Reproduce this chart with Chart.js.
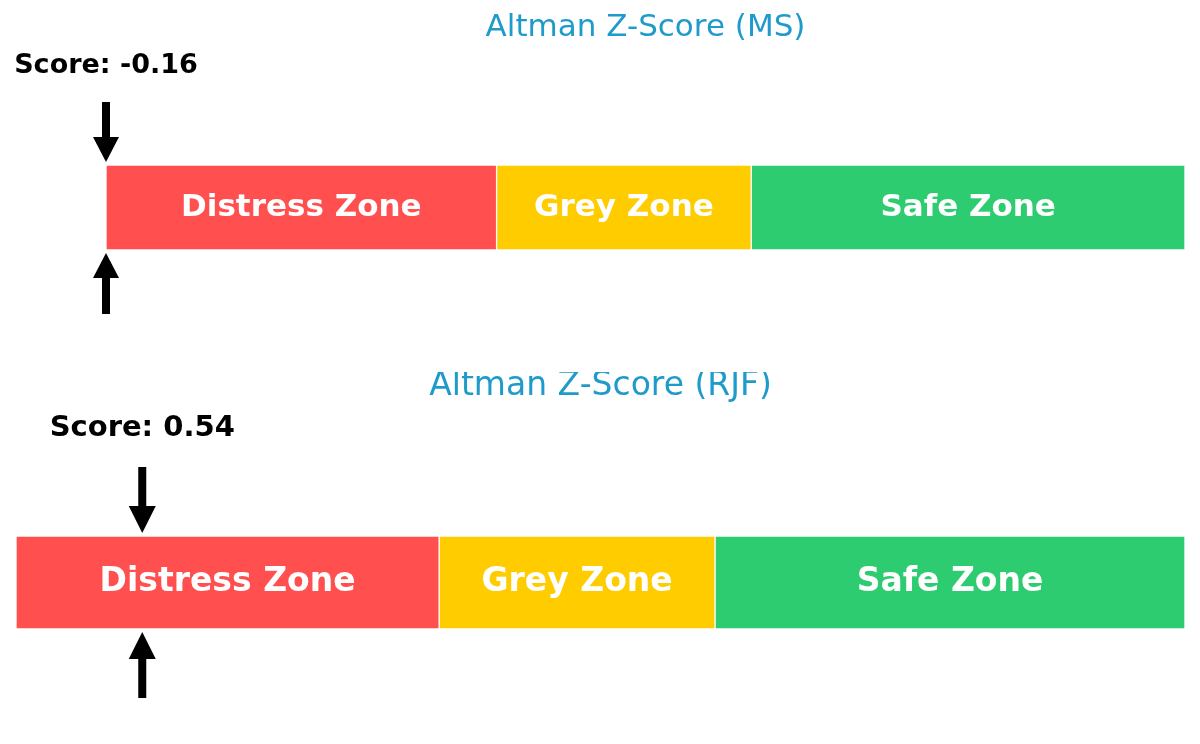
<!DOCTYPE html>
<html>
<head>
<meta charset="utf-8">
<script src="https://cdn.jsdelivr.net/npm/chart.js@4/dist/chart.umd.min.js"></script>
<style>
  html, body { margin: 0; padding: 0; background: #ffffff; }
  #wrap { position: relative; width: 1200px; height: 744px; }
  .panel { position: absolute; left: 0; width: 1200px; height: 372px; }
</style>
</head>
<body>
<div id="wrap">
  <div class="panel" style="top:0"><canvas id="c1"></canvas></div>
  <div class="panel" style="top:372px"><canvas id="c2"></canvas></div>
</div>
<script>
// ---- data ----
const companies = ["MS", "RJF"];
const titles = ["Altman Z-Score (MS)", "Altman Z-Score (RJF)"];
const scores = [-0.16, 0.54];
const zoneLabels = ["Distress Zone", "Grey Zone", "Safe Zone"];
const zoneStarts = [0, 1.81, 2.99];
const zoneEnds = [1.81, 2.99, 5];
const axisMin = 0;
const axisMax = 5;

// ---- styles ----
const zoneColors = ["#ff4f4f", "#ffcc00", "#2ecc71"];
const panelStyles = [
  { pad: { left: 106, right: 15, top: 165, bottom: 122 }, titleY: 28, titleSize: 31, scoreY: 66, scoreSize: 27, zoneSize: 31,
    downTop: 63, upBottom: 64, gap: 3, shaft: 8, headW: 26, headL: 25 },
  { pad: { left: 16, right: 15, top: 164, bottom: 115 }, titleY: 14, titleSize: 33, scoreY: 56, scoreSize: 29, zoneSize: 33,
    downTop: 69, upBottom: 69, gap: 3, shaft: 8, headW: 27, headL: 27 }
];

function drawArrow(ctx, x, yFrom, yTo, st) {
  const dir = yTo > yFrom ? 1 : -1;
  const headBase = yTo - dir * st.headL;
  ctx.fillStyle = "#000";
  ctx.fillRect(x - st.shaft / 2, Math.min(yFrom, headBase), st.shaft, Math.abs(headBase - yFrom));
  ctx.beginPath();
  ctx.moveTo(x - st.headW / 2, headBase);
  ctx.lineTo(x + st.headW / 2, headBase);
  ctx.lineTo(x, yTo);
  ctx.closePath();
  ctx.fill();
}

const overlay = {
  id: "overlay",
  afterDatasetsDraw(chart, args, opts) {
    const st = opts.style;
    const i = opts.index;
    const ctx = chart.ctx;
    const area = chart.chartArea;
    const xs = chart.scales.x;
    ctx.save();
    // zone labels
    ctx.textAlign = "center";
    ctx.textBaseline = "middle";
    ctx.fillStyle = "#ffffff";
    ctx.font = "bold " + st.zoneSize + "px 'DejaVu Sans'";
    chart.data.datasets.forEach((ds, k) => {
      const el = chart.getDatasetMeta(k).data[0];
      const cx = (el.x + el.base) / 2;
      ctx.fillText(ds.label, cx, el.y);
    });
    // title
    ctx.fillStyle = "#1f9bcb";
    ctx.font = st.titleSize + "px 'DejaVu Sans'";
    ctx.fillText(titles[i], (area.left + area.right) / 2, st.titleY);
    // score marker
    const sx = xs.getPixelForValue(Math.max(scores[i], xs.min));
    ctx.fillStyle = "#000";
    ctx.font = "bold " + st.scoreSize + "px 'DejaVu Sans'";
    ctx.fillText("Score: " + scores[i].toFixed(2), sx, st.scoreY);
    drawArrow(ctx, sx, area.top - st.downTop, area.top - st.gap, st);
    drawArrow(ctx, sx, area.bottom + st.upBottom, area.bottom + st.gap, st);
    ctx.restore();
  }
};

function makeChart(canvasId, i) {
  const st = panelStyles[i];
  return new Chart(document.getElementById(canvasId), {
    type: "bar",
    data: {
      labels: [companies[i]],
      datasets: zoneLabels.map((lab, k) => ({
        label: lab,
        data: [[zoneStarts[k], zoneEnds[k]]],
        backgroundColor: zoneColors[k],
        borderColor: "#ffffff",
        borderWidth: 1,
        borderSkipped: false,
        grouped: false,
        barPercentage: 1,
        categoryPercentage: 1
      }))
    },
    options: {
      indexAxis: "y",
      responsive: true,
      maintainAspectRatio: false,
      animation: false,
      layout: { padding: st.pad },
      scales: {
        x: { type: "linear", min: axisMin, max: axisMax, display: false },
        y: { display: false }
      },
      plugins: {
        legend: { display: false },
        tooltip: { enabled: false },
        title: { display: false },
        overlay: { style: st, index: i }
      }
    },
    plugins: [overlay]
  });
}

makeChart("c1", 0);
makeChart("c2", 1);
</script>
</body>
</html>
